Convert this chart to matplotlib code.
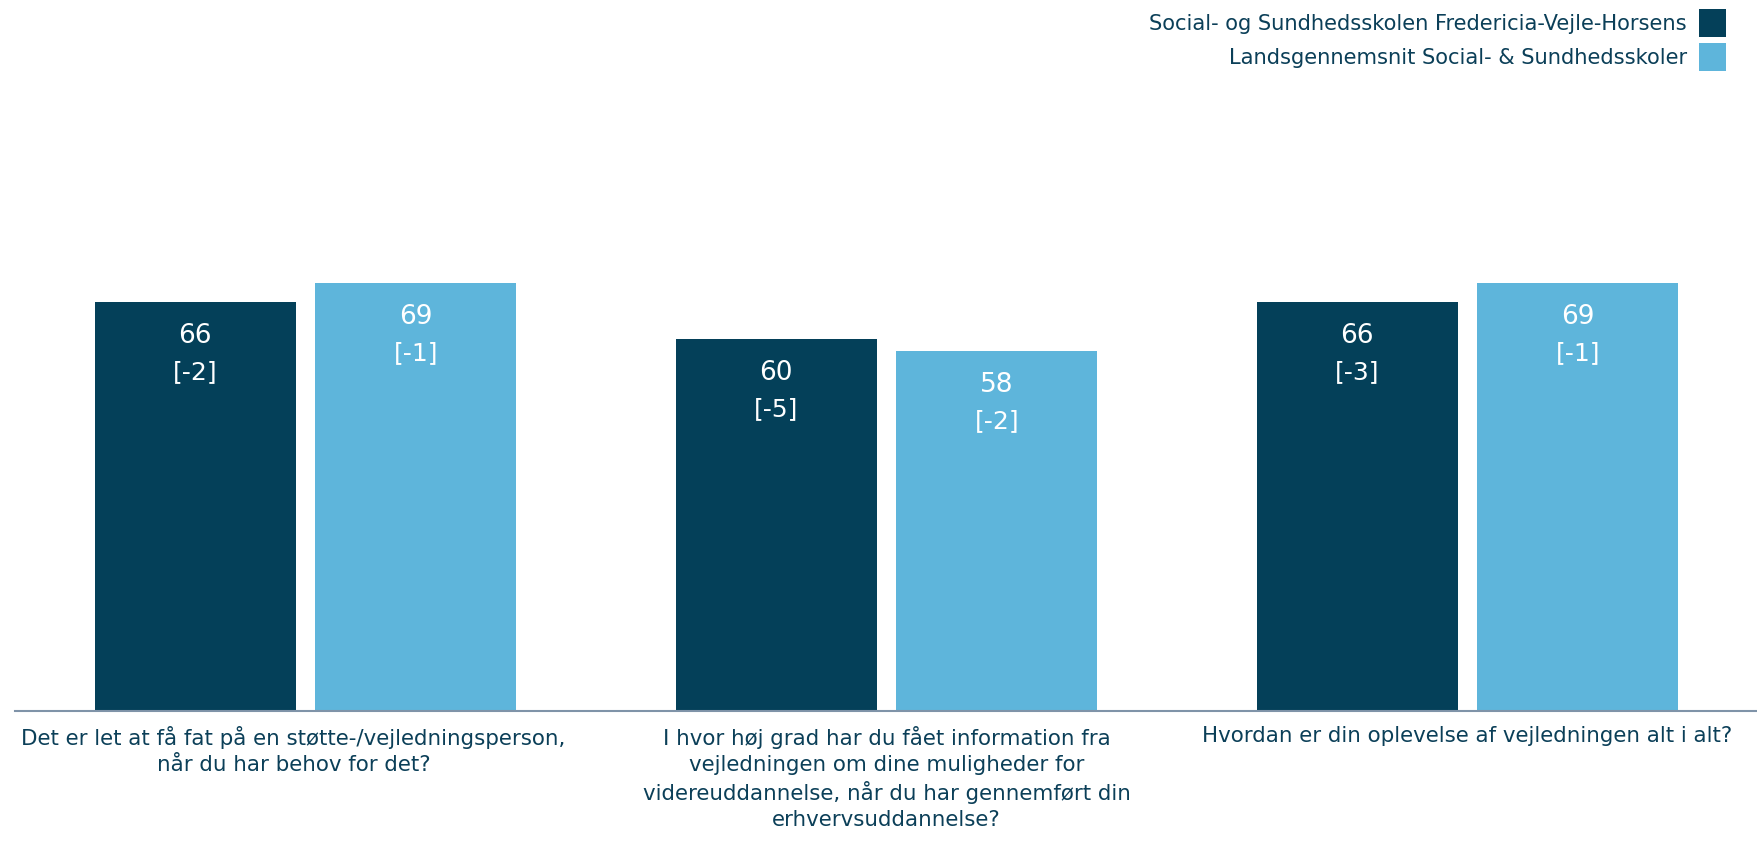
import matplotlib.pyplot as plt
import matplotlib.transforms as mtransforms
import numpy as np

# survey questions (x axis)
questions = [
    "Det er let at få fat på en støtte-/vejledningsperson,\nnår du har behov for det?",
    "I hvor høj grad har du fået information fra\nvejledningen om dine muligheder for\nvidereuddannelse, når du har gennemført din\nerhvervsuddannelse?",
    "Hvordan er din oplevelse af vejledningen alt i alt?",
]

series_names = [
    "Social- og Sundhedsskolen Fredericia-Vejle-Horsens",
    "Landsgennemsnit Social- & Sundhedsskoler",
]
school_values = [66, 60, 66]
school_change = [-2, -5, -3]
national_values = [69, 58, 69]
national_change = [-1, -2, -1]

dark_blue = "#044059"
light_blue = "#5eb5db"
text_color = "#0b3f58"

plt.rcParams['font.family'] = ['DejaVu Sans Condensed', 'DejaVu Sans']

fig = plt.figure(figsize=(17.58, 8.44), dpi=100)
ax = fig.add_axes([15 / 1758, 133 / 844, 1743 / 1758, 620 / 844])

x = np.arange(len(questions))
bar_w = 201 / 582
offset = (201 + 20) / 2 / 582

bars_school = ax.bar(x - offset, school_values, bar_w, color=dark_blue, label=series_names[0])
bars_nat = ax.bar(x + offset, national_values, bar_w, color=light_blue, label=series_names[1])

# value and change label inside the top of each bar
for bars, vals, changes in [(bars_school, school_values, school_change),
                            (bars_nat, national_values, national_change)]:
    for b, v, c in zip(bars, vals, changes):
        cx = b.get_x() + b.get_width() / 2
        ax.annotate(str(v), (cx, v), xytext=(0, -34), textcoords="offset pixels",
                    ha="center", va="center", color="white", fontsize=19)
        ax.annotate("[%d]" % c, (cx, v), xytext=(0, -70), textcoords="offset pixels",
                    ha="center", va="center", color="white", fontsize=18)

ax.set_xlim(-0.5, 2.5)
ax.set_ylim(0, 100)
ax.set_yticks([])
ax.set_xticks(x)
ax.set_xticklabels(questions, fontsize=15.4, color=text_color, linespacing=1.34)
ax.tick_params(axis="x", length=0, pad=11)

# first question sits a little left of its bars
lbl = ax.get_xticklabels()[0]
lbl.set_transform(lbl.get_transform() + mtransforms.ScaledTranslation(-0.12, 0, fig.dpi_scale_trans))

for side in ["top", "right", "left"]:
    ax.spines[side].set_visible(False)
ax.spines["bottom"].set_color("#7f93a8")
ax.spines["bottom"].set_linewidth(1.5)

leg = fig.legend(loc="upper right", bbox_to_anchor=(1734 / 1758, 1 - 1 / 844),
                 markerfirst=False, frameon=False, fontsize=15.1,
                 handlelength=1.25, handleheight=1.65, handletextpad=0.6,
                 labelspacing=0.28, borderaxespad=0)
for t in leg.get_texts():
    t.set_color(text_color)
    t.set_ha("right")

fig.savefig("out.png", dpi=100)
